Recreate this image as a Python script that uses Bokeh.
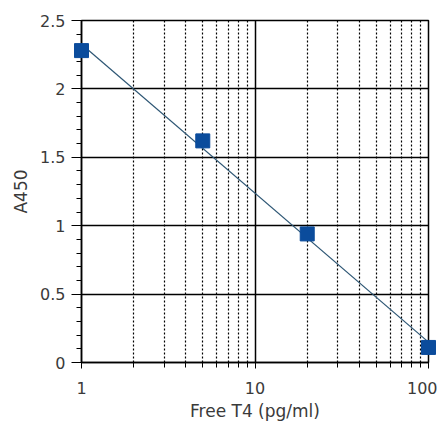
import numpy as np
from bokeh.plotting import figure
from bokeh.models import Range1d, FixedTicker
from bokeh.embed import file_html
from bokeh.resources import INLINE

# Data
conc = [1, 5, 20, 100]            # Free T4 (pg/ml)
a450 = [2.28, 1.62, 0.94, 0.11]   # absorbance

x_ticks = [1, 10, 100]
x_tick_labels = ["1", "10", "100"]
x_minor = [2, 3, 4, 5, 6, 7, 8, 9, 20, 30, 40, 50, 60, 70, 80, 90]
y_ticks = [0, 0.5, 1, 1.5, 2, 2.5]
y_tick_labels = ["0", "0.5", "1", "1.5", "2", "2.5"]
y_minor = [0.1, 0.2, 0.3, 0.4, 0.6, 0.7, 0.8, 0.9, 1.1, 1.2, 1.3, 1.4,
           1.6, 1.7, 1.8, 1.9, 2.1, 2.2, 2.3, 2.4]

FONT = "DejaVu Sans"
TXT = "#3a3a3a"

p = figure(width=437, height=425, x_axis_type="log",
           x_range=Range1d(1, 100), y_range=Range1d(0, 2.5),
           output_backend="svg", toolbar_location=None,
           min_border_left=81, min_border_right=9,
           min_border_top=20, min_border_bottom=63)
p.background_fill_color = "white"
p.border_fill_color = "white"
p.outline_line_color = "black"
p.outline_line_width = 1.5

# linear fit of A450 vs log10(conc)
lx = np.log10(conc)
slope, intercept = np.polyfit(lx, a450, 1)
fx = np.array([min(conc), max(conc)])
fy = intercept + slope * np.log10(fx)
p.line(fx, fy, line_color="#2d5674", line_width=1.2, level="overlay")

p.scatter(conc, a450, marker="square", size=14, fill_color="#0b4c9c",
          line_color="#0b4c9c", level="overlay")

# x axis
p.xaxis.ticker = FixedTicker(ticks=x_ticks, minor_ticks=x_minor)
p.xaxis.major_label_overrides = {t: l for t, l in zip(x_ticks, x_tick_labels)}
p.xaxis.axis_label = "Free T4 (pg/ml)"
p.xgrid.ticker = FixedTicker(ticks=x_ticks, minor_ticks=x_minor)
p.xgrid.grid_line_color = "black"
p.xgrid.grid_line_width = 1.5
p.xgrid.grid_line_alpha = 1.0
p.xgrid.minor_grid_line_color = "black"
p.xgrid.minor_grid_line_dash = "2 2"
p.xgrid.minor_grid_line_width = 1.2

# y axis
p.yaxis.ticker = FixedTicker(ticks=y_ticks, minor_ticks=y_minor)
p.yaxis.major_label_overrides = {t: l for t, l in zip(y_ticks, y_tick_labels)}
p.yaxis.axis_label = "A450"
p.ygrid.ticker = FixedTicker(ticks=y_ticks)
p.ygrid.grid_line_color = "black"
p.ygrid.grid_line_width = 1.5
p.ygrid.grid_line_alpha = 1.0

for ax in (p.xaxis, p.yaxis):
    ax.axis_line_color = "black"
    ax.axis_line_width = 1.5
    ax.major_tick_line_color = "black"
    ax.minor_tick_line_color = "black"
    ax.major_tick_in = 0
    ax.minor_tick_in = 0
    ax.major_label_text_font = FONT
    ax.major_label_text_font_size = "16px"
    ax.major_label_text_color = TXT
    ax.axis_label_text_font = FONT
    ax.axis_label_text_font_size = "17px"
    ax.axis_label_text_font_style = "normal"
    ax.axis_label_text_color = TXT

p.xaxis.major_tick_out = 6
p.xaxis.minor_tick_out = 5
p.xaxis.major_label_standoff = 13
p.xaxis.axis_label_standoff = 4
p.yaxis.major_tick_out = 10
p.yaxis.minor_tick_out = 5
p.yaxis.major_label_standoff = 6
p.yaxis.axis_label_standoff = 6

open("out.html", "w").write(file_html(p, INLINE))
